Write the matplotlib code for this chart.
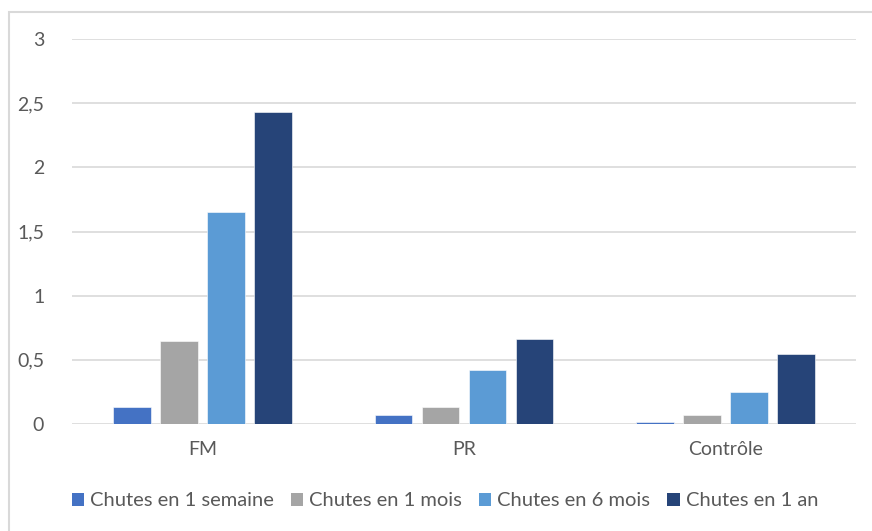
import numpy as np
import matplotlib
matplotlib.use("Agg")
import matplotlib.pyplot as plt
from matplotlib.patches import Patch, Rectangle
from matplotlib.ticker import FuncFormatter

# valeurs
groupes = ["FM", "PR", "Contrôle"]
series = ["Chutes en 1 semaine", "Chutes en 1 mois", "Chutes en 6 mois", "Chutes en 1 an"]
semaine = [0.13, 0.07, 0.013]
mois = [0.65, 0.13, 0.07]
six_mois = [1.65, 0.42, 0.25]
un_an = [2.43, 0.665, 0.545]
couleurs = ["#4472C4", "#A5A5A5", "#5B9BD5", "#264478"]

plt.rcParams['font.family'] = ['Lato', 'DejaVu Sans']

fig = plt.figure(figsize=(8.72, 5.31), dpi=100)
ax = fig.add_axes([72/872, 1-424/531, (856-72)/872, (424-39)/531])

# cadre gris autour du graphique
fig.patches.append(Rectangle((9/872, -0.1), 1.2, 1.1 - 12/531, transform=fig.transFigure,
                             fill=False, edgecolor="#D9D9D9", linewidth=1.5))

x = np.arange(len(groupes))
largeur = 0.144
pas = 0.18
for i, (vals, c) in enumerate(zip([semaine, mois, six_mois, un_an], couleurs)):
    ax.bar(x + (i - 1.5) * pas, vals, largeur, color=c, edgecolor="white", linewidth=0.4, zorder=3)

ax.set_xlim(-0.5, 2.5)
ax.set_ylim(0, 3)
ax.set_yticks(np.arange(0, 3.01, 0.5))
ax.yaxis.set_major_formatter(FuncFormatter(lambda v, p: ("%g" % v).replace(".", ",")))
ax.set_xticks(x)
ax.set_xticklabels(groupes)
ax.grid(axis="y", color="#D9D9D9", linewidth=1.2, zorder=0)
for s in ax.spines.values():
    s.set_visible(False)
ax.tick_params(length=0, labelsize=14, colors="#595959")
ax.tick_params(axis="y", pad=20)
ax.tick_params(axis="x", pad=12)

handles = [Patch(facecolor=c) for c in couleurs]
fig.legend(handles, series, loc="center", bbox_to_anchor=(445/872, 1-501/531), ncol=4,
           frameon=False, fontsize=14.5, labelcolor="#595959", handlelength=0.6, handleheight=0.6,
           handletextpad=0.3, columnspacing=0.85)

fig.savefig("out.png", dpi=100)
